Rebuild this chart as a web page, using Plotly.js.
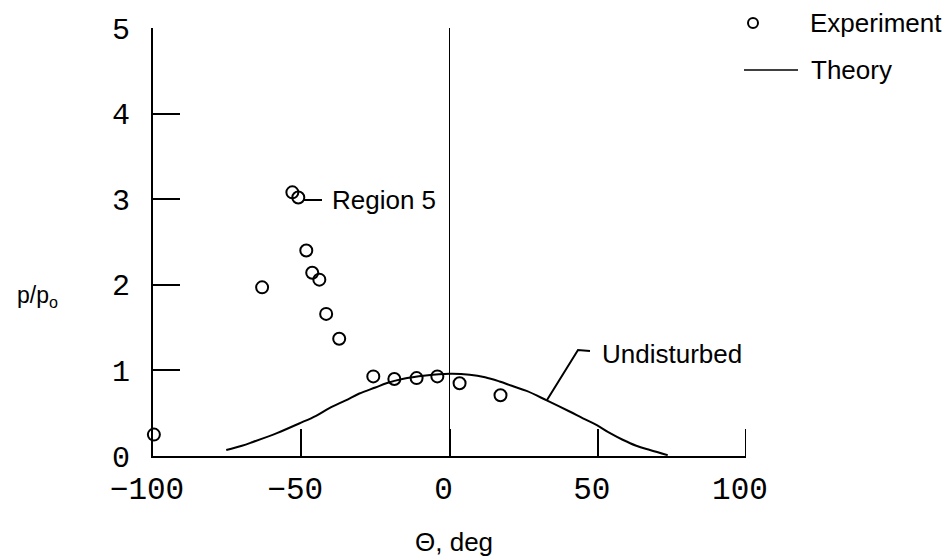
<!DOCTYPE html>
<html>
<head>
<meta charset="utf-8">
<script src="https://cdn.plot.ly/plotly-3.0.1.min.js"></script>
<style>html,body{margin:0;padding:0;background:#fff;}#chart{width:952px;height:559px;}</style>
</head>
<body>
<div id="chart"></div>
<script>
// Experimental data (Theta in deg, p/p0)
const expTheta = [-99.7, -63.2, -53.0, -51.0, -48.3, -46.3, -43.9, -41.6, -37.2, -25.7, -18.6, -11.1, -4.1, 3.4, 17.2];
const expP     = [0.25, 1.97, 3.08, 3.02, 2.40, 2.14, 2.06, 1.66, 1.37, 0.93, 0.90, 0.91, 0.93, 0.85, 0.71];
// Theory curve
const thTheta = [-75.3, -70, -66.6, -58, -50.7, -45, -40.5, -35, -30.4, -25, -21.3, -15.9, -8, 0, 6.8, 12, 16.9, 21, 26.0, 32.8, 40.5, 45, 49.7, 54, 58.4, 63, 67.6, 73.6];
const thP     = [0.07, 0.12, 0.16, 0.27, 0.38, 0.47, 0.56, 0.65, 0.73, 0.80, 0.85, 0.90, 0.94, 0.96, 0.95, 0.92, 0.87, 0.82, 0.76, 0.65, 0.52, 0.44, 0.36, 0.27, 0.19, 0.12, 0.07, 0.01];
// Ticks
const xTicks = [-100, -50, 0, 50, 100];
const xTickText = ['\u2212100', '\u221250', '0', '50', '100'];
const yTicks = [0, 1, 2, 3, 4, 5];
const yTickText = ['0', '1', '2', '3', '4', '5'];

const W = 952, H = 559, L = 153, R = 206, T = 28, B = 103;
const pw = W - L - R, ph = H - T - B;
const fx = px => (px - L) / pw;          // pixel -> paper x
const fy = py => (H - B - py) / ph;      // pixel -> paper y

const sans = 'Liberation Sans, Arial, Helvetica, sans-serif';
const mono = 'Liberation Mono, Courier New, monospace';

const traces = [
  {x: thTheta, y: thP, mode: 'lines', line: {color: '#000', width: 2, shape: 'spline', smoothing: 1}, name: 'Theory', showlegend: false, hoverinfo: 'skip'},
  {x: expTheta, y: expP, mode: 'markers', marker: {symbol: 'circle-open', size: 12, color: '#000', line: {width: 2, color: '#000'}}, name: 'Experiment', showlegend: false, cliponaxis: false}
];

const layout = {
  width: W, height: H,
  margin: {l: L, r: R, t: T, b: B, pad: 0},
  paper_bgcolor: '#fff', plot_bgcolor: '#fff',
  showlegend: false,
  xaxis: {
    range: [-100, 100], tickvals: xTicks, ticktext: xTickText,
    ticks: 'inside', ticklen: 27, tickwidth: 2, tickcolor: '#000',
    showline: true, linecolor: '#000', linewidth: 2, mirror: false,
    showgrid: false, zeroline: true, zerolinecolor: '#000', zerolinewidth: 1.5,
    tickfont: {family: mono, size: 31, color: '#000'},
    ticklabelstandoff: 4, ticklabelshift: -6, fixedrange: true
  },
  yaxis: {
    range: [0, 5], tickvals: yTicks, ticktext: yTickText,
    ticks: 'inside', ticklen: 27, tickwidth: 2, tickcolor: '#000',
    showline: true, linecolor: '#000', linewidth: 2,
    showgrid: false, zeroline: false,
    tickfont: {family: mono, size: 30, color: '#000'},
    ticklabelstandoff: 15, fixedrange: true
  },
  shapes: [
    // end tick at x = 100 (hidden by Plotly at the axis end)
    {type: 'line', xref: 'x', yref: 'paper', x0: 100, x1: 100, y0: 0, y1: 27 / ph, line: {color: '#000', width: 2}},
    // Region 5 leader
    {type: 'line', xref: 'paper', yref: 'paper', x0: fx(304), y0: fy(200), x1: fx(322), y1: fy(200), line: {color: '#000', width: 2}},
    // Undisturbed leader
    {type: 'path', xref: 'paper', yref: 'paper', path: 'M' + fx(547) + ',' + fy(400) + ' L' + fx(578) + ',' + fy(350) + ' L' + fx(590) + ',' + fy(351), line: {color: '#000', width: 2}},
    // legend: circle
    {type: 'circle', xref: 'paper', yref: 'paper', x0: fx(748), y0: fy(28), x1: fx(758), y1: fy(18), line: {color: '#000', width: 2}},
    // legend: line
    {type: 'line', xref: 'paper', yref: 'paper', x0: fx(744), y0: fy(70), x1: fx(798), y1: fy(70), line: {color: '#000', width: 1.5}}
  ],
  annotations: [
    {xref: 'paper', yref: 'paper', x: fx(330), y: fy(200), xanchor: 'left', yanchor: 'middle', text: 'Region 5', showarrow: false, font: {family: sans, size: 26, color: '#000'}},
    {xref: 'paper', yref: 'paper', x: fx(600), y: fy(354), xanchor: 'left', yanchor: 'middle', text: 'Undisturbed', showarrow: false, font: {family: sans, size: 26, color: '#000'}},
    {xref: 'paper', yref: 'paper', x: fx(808), y: fy(23), xanchor: 'left', yanchor: 'middle', text: 'Experiment', showarrow: false, font: {family: sans, size: 26, color: '#000'}},
    {xref: 'paper', yref: 'paper', x: fx(809), y: fy(70), xanchor: 'left', yanchor: 'middle', text: 'Theory', showarrow: false, font: {family: sans, size: 26, color: '#000'}},
    {xref: 'paper', yref: 'paper', x: fx(454), y: fy(542), xanchor: 'center', yanchor: 'middle', text: '\u0398, deg', showarrow: false, font: {family: sans, size: 26, color: '#000'}},
    {xref: 'paper', yref: 'paper', x: fx(15), y: fy(296), xanchor: 'left', yanchor: 'middle', text: 'p/p<sub>o</sub>', showarrow: false, font: {family: sans, size: 23, color: '#000'}}
  ]
};

Plotly.newPlot('chart', traces, layout, {displayModeBar: false, staticPlot: true});
</script>
</body>
</html>
